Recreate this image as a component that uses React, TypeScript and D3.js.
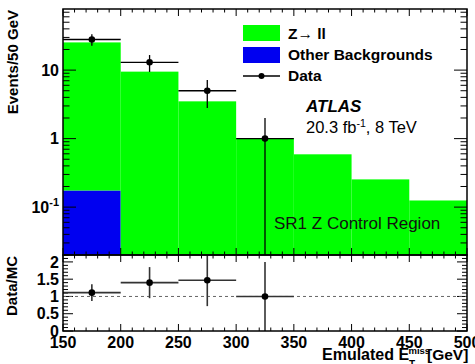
import React from "react";
import * as d3 from "d3";

// Bin edges in emulated missing transverse energy [GeV]
const binEdges = [150, 200, 250, 300, 350, 400, 450, 500];
// Stacked backgrounds (events / 50 GeV)
const otherBkg = [0.175, 0, 0, 0, 0, 0, 0];
const zll = [25.2, 9.5, 3.5, 1.0, 0.59, 0.254, 0.125];
// Observed data (first four bins only)
const dataCenters = [175, 225, 275, 325];
const dataValues = [28, 13, 5, 1];
const dataErrors = [5.3, 3.6, 2.2, 1.0];
// Data/MC ratio
const ratioValues = [1.11, 1.4, 1.47, 1.0];
const ratioErrors = [0.24, 0.45, 0.75, 1.0];
const xTickLabels = [150, 200, 250, 300, 350, 400, 450, 500];
const ratioTickLabels = ["0", "0.5", "1", "1.5", "2"];

const W = 475;
const H = 364;
const L = 63;
const R = 467;
const TOP = 9;
const MID = 255;
const BOT = 331;
const FONT = "'Liberation Sans', Arial, Helvetica, sans-serif";
const GREEN = "#00ff00";
const BLUE = "#0000f0";

export default function App() {
  const x = d3.scaleLinear().domain([150, 500]).range([L, R]);
  const y = d3.scaleLog().domain([0.02, 78]).range([MID, TOP]);
  const yr = d3.scaleLinear().domain([0, 2.2]).range([BOT, MID]);

  const bins = d3.range(zll.length).map((i) => ({
    x0: binEdges[i],
    x1: binEdges[i + 1],
    other: otherBkg[i],
    z: zll[i],
  }));

  const logTicks = y.ticks();
  const xMinor = d3.range(150, 501, 10);
  const rMinor = d3.range(0, 2.21, 0.1);
  const rMajor = ratioTickLabels.map(Number);

  const blackLine = { stroke: "#000", strokeWidth: 1.3 };

  return (
    <svg
      width={W}
      height={H}
      style={{ position: "absolute", left: 0, top: 0, background: "#fff" }}
      fontFamily={FONT}
    >
      <defs>
        <clipPath id="mainClip">
          <rect x={L} y={TOP} width={R - L} height={MID - TOP} />
        </clipPath>
        <clipPath id="ratioClip">
          <rect x={L} y={MID} width={R - L} height={BOT - MID} />
        </clipPath>
      </defs>
      <rect x={0} y={0} width={W} height={H} fill="#fff" />

      {/* stacked histograms */}
      <g clipPath="url(#mainClip)">
        {bins.map((b, i) => {
          const base = b.other > 0 ? y(b.other) : MID;
          return (
            <g key={i}>
              {b.other > 0 && (
                <rect
                  x={x(b.x0)}
                  y={y(b.other)}
                  width={x(b.x1) - x(b.x0)}
                  height={MID - y(b.other)}
                  fill={BLUE}
                />
              )}
              <rect
                x={x(b.x0)}
                y={y(b.other + b.z)}
                width={x(b.x1) - x(b.x0)}
                height={base - y(b.other + b.z)}
                fill={GREEN}
              />
            </g>
          );
        })}

        {/* data points */}
        {dataValues.map((v, i) => {
          const cx = x(dataCenters[i]);
          const lo = Math.max(v - dataErrors[i], 0.001);
          return (
            <g key={i}>
              <line x1={x(dataCenters[i] - 25)} x2={x(dataCenters[i] + 25)} y1={y(v)} y2={y(v)} {...blackLine} />
              <line x1={cx} x2={cx} y1={y(v + dataErrors[i])} y2={y(lo)} {...blackLine} />
              <circle cx={cx} cy={y(v)} r={3.3} fill="#000" />
            </g>
          );
        })}
      </g>

      {/* frame ticks */}
      <g stroke="#000" strokeWidth={1}>
        {logTicks.map((t, i) => {
          const major = Math.abs(Math.log10(t) - Math.round(Math.log10(t))) < 1e-9;
          const len = major ? 13 : 6.5;
          return (
            <g key={i}>
              <line x1={L} x2={L + len} y1={y(t)} y2={y(t)} />
              <line x1={R} x2={R - len} y1={y(t)} y2={y(t)} />
            </g>
          );
        })}
        {xMinor.map((t, i) => {
          const len = t % 50 === 0 ? 7 : 3.5;
          return (
            <g key={i}>
              <line x1={x(t)} x2={x(t)} y1={TOP} y2={TOP + len} />
              <line x1={x(t)} x2={x(t)} y1={MID} y2={MID - len} />
              <line x1={x(t)} x2={x(t)} y1={MID} y2={MID + len} />
              <line x1={x(t)} x2={x(t)} y1={BOT} y2={BOT - len} />
            </g>
          );
        })}
        {rMinor.map((t, i) => {
          const major = rMajor.some((m) => Math.abs(m - t) < 1e-6);
          const len = major ? 10 : 5;
          return (
            <g key={i}>
              <line x1={L} x2={L + len} y1={yr(t)} y2={yr(t)} />
              <line x1={R} x2={R - len} y1={yr(t)} y2={yr(t)} />
            </g>
          );
        })}
      </g>

      {/* ratio panel */}
      <line x1={L} x2={R} y1={yr(1)} y2={yr(1)} stroke="#666" strokeWidth={1} strokeDasharray="3,3" />
      <g clipPath="url(#ratioClip)">
        {ratioValues.map((v, i) => {
          const cx = x(dataCenters[i]);
          return (
            <g key={i} stroke="#333" strokeWidth={1.6}>
              <line x1={x(dataCenters[i] - 25)} x2={x(dataCenters[i] + 25)} y1={yr(v)} y2={yr(v)} />
              <line x1={cx} x2={cx} y1={yr(v + ratioErrors[i])} y2={yr(v - ratioErrors[i])} />
              <circle cx={cx} cy={yr(v)} r={3.3} fill="#000" stroke="none" />
            </g>
          );
        })}
      </g>

      {/* frames */}
      <rect x={L} y={TOP} width={R - L} height={MID - TOP} fill="none" stroke="#000" strokeWidth={1.5} />
      <rect x={L} y={MID} width={R - L} height={BOT - MID} fill="none" stroke="#000" strokeWidth={1.5} />

      {/* main y labels */}
      <g fontWeight="bold" fontSize={16} textAnchor="end">
        <text x={59} y={y(10)} dy="0.36em">10</text>
        <text x={59} y={y(1)} dy="0.36em">1</text>
        <text x={59} y={y(0.1)} dy="0.36em">
          10<tspan fontSize={11} dy="-7">-1</tspan>
        </text>
      </g>

      {/* ratio y labels */}
      <g fontWeight="bold" fontSize={16} textAnchor="end">
        {ratioTickLabels.map((s, i) => (
          <text key={i} x={59} y={yr(Number(s))} dy="0.36em">{s}</text>
        ))}
      </g>

      {/* x labels */}
      <g fontWeight="bold" fontSize={16} textAnchor="middle">
        {xTickLabels.map((t, i) => (
          <text key={i} x={x(t)} y={348}>{t}</text>
        ))}
      </g>

      {/* axis titles */}
      <text transform="translate(18,10) rotate(-90)" textAnchor="end" fontWeight="bold" fontSize={15}>
        Events/50 GeV
      </text>
      <text transform="translate(17,256) rotate(-90)" textAnchor="end" fontWeight="bold" fontSize={15}>
        Data/MC
      </text>
      <g fontWeight="bold">
        <text x={322} y={360} fontSize={16}>Emulated E</text>
        <text x={409} y={368} fontSize={10}>T</text>
        <text x={408.5} y={354} fontSize={9.5}>miss</text>
        <text x={427} y={360} fontSize={15.5}>[GeV]</text>
      </g>

      {/* legend */}
      <rect x={243} y={25} width={37} height={16} fill={GREEN} />
      <rect x={243} y={47} width={37} height={16} fill={BLUE} />
      <line x1={243} x2={280} y1={76} y2={76} {...blackLine} />
      <circle cx={261.5} cy={76} r={3} fill="#000" />
      <g fontWeight="bold" fontSize={15.5}>
        <text x={288} y={33} dy="0.36em">
          Z<tspan fontWeight="normal">→</tspan> ll
        </text>
        <text x={288} y={54.5} dy="0.36em">Other Backgrounds</text>
        <text x={288} y={75.5} dy="0.36em">Data</text>
      </g>

      {/* experiment label */}
      <text x={306} y={112} fontWeight="bold" fontStyle="italic" fontSize={17}>ATLAS</text>
      <text x={306} y={133} fontSize={16.5}>
        20.3 fb<tspan fontSize={10.5} dy={-6}>-1</tspan>
        <tspan dy={6}>, 8 TeV</tspan>
      </text>
      <text x={274} y={229} fontSize={17} fill="#111">SR1 Z Control Region</text>
    </svg>
  );
}
